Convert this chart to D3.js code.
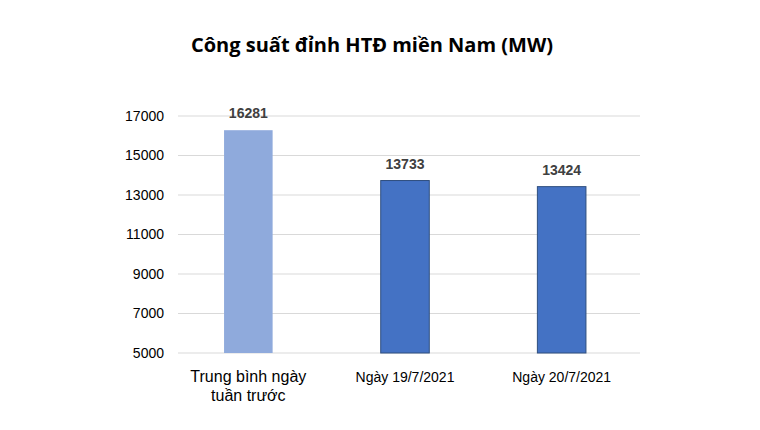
<!DOCTYPE html>
<html><head><meta charset="utf-8">
<script src="https://cdn.jsdelivr.net/npm/d3@7"></script>
<style>body{margin:0;background:#fff}</style></head>
<body><svg id="c" width="760" height="430"></svg>
<script>
const categories = [["Trung bình ngày","tuần trước"],["Ngày 19/7/2021"],["Ngày 20/7/2021"]];
const values = [16281, 13733, 13424];
const colors = ["#8FAADC", "#4472C4", "#4472C4"];
const yTicks = [5000, 7000, 9000, 11000, 13000, 15000, 17000];

const svg = d3.select("#c");
const font = "'Liberation Sans', Arial, sans-serif";
const x = d3.scaleBand().domain(d3.range(values.length)).range([170, 640]).paddingInner(0.69).paddingOuter(0.345);
const y = d3.scaleLinear().domain([5000, 17000]).range([353, 116]);

svg.append("text").attr("x", 372).attr("y", 52).attr("text-anchor", "middle")
  .attr("font-family", "'Open Sans', sans-serif").attr("font-weight", "bold").attr("font-size", 20)
  .attr("fill", "#000").text("Công suất đỉnh HTĐ miền Nam (MW)");

svg.append("g").selectAll("line").data(yTicks).join("line")
  .attr("x1", 178).attr("x2", 640).attr("y1", d => y(d)).attr("y2", d => y(d))
  .attr("stroke", "#D9D9D9").attr("stroke-width", 1);

const ya = svg.append("g").attr("transform", "translate(170,0)")
  .call(d3.axisLeft(y).tickValues(yTicks).tickSize(0).tickPadding(6).tickFormat(d3.format("d")));
ya.select(".domain").remove();
ya.selectAll("text").attr("font-family", font).attr("font-size", 14).attr("fill", "#000");

svg.append("g").selectAll("rect").data(values).join("rect")
  .attr("x", (d, i) => x(i)).attr("width", x.bandwidth())
  .attr("y", d => y(d)).attr("height", d => y(5000) - y(d))
  .attr("fill", (d, i) => colors[i]).attr("stroke", (d, i) => i ? "#2F4F7F" : "none").attr("stroke-width", 1);

svg.append("g").selectAll("text").data(values).join("text")
  .attr("x", (d, i) => x(i) + x.bandwidth() / 2).attr("y", d => y(d) - 12)
  .attr("text-anchor", "middle").attr("font-family", font).attr("font-weight", "bold")
  .attr("font-size", 14).attr("fill", "#404040").text(d => d);

const xl = svg.append("g");
categories.forEach((lines, i) => {
  const t = xl.append("text").attr("x", x(i) + x.bandwidth() / 2).attr("y", 382)
    .attr("text-anchor", "middle").attr("font-family", font).attr("fill", "#000")
    .attr("font-size", lines.length > 1 ? 16 : 14);
  lines.forEach((l, j) => t.append("tspan").attr("x", x(i) + x.bandwidth() / 2).attr("dy", j ? 19 : 0).text(l));
});
</script></body></html>
